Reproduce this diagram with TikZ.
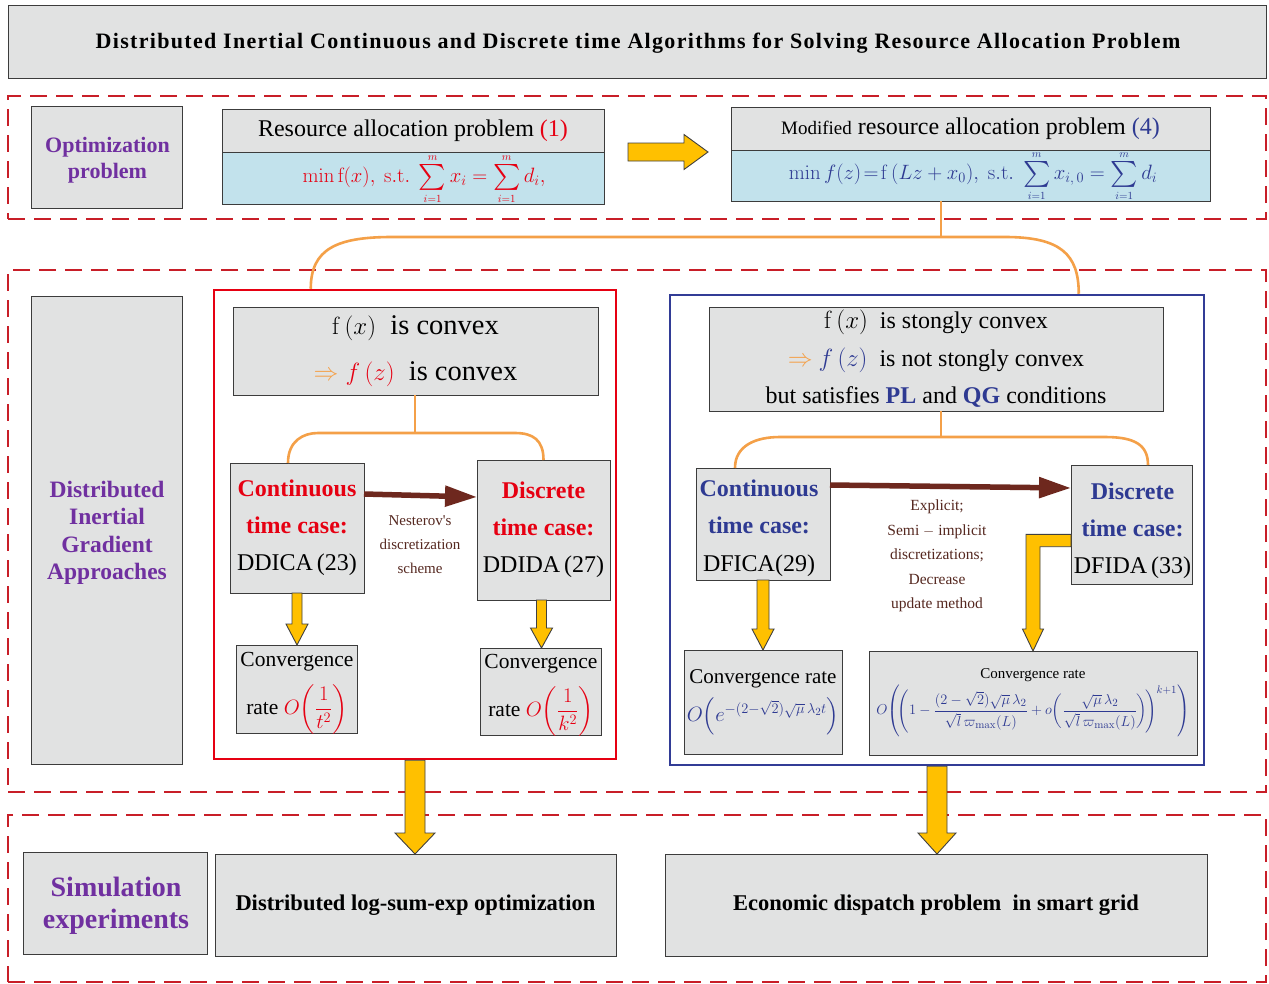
\documentclass[tikz,border=0pt]{standalone}
\usepackage[no-math]{fontspec}
\setmainfont{Liberation Serif}
\usepackage{amsmath}
\usepackage{graphicx}
\usetikzlibrary{arrows.meta,calc}
\definecolor{boxgray}{RGB}{225,226,226}
\definecolor{boxline}{RGB}{60,60,60}
\definecolor{lblue}{RGB}{194,226,236}
\definecolor{tpurple}{RGB}{112,48,160}
\definecolor{tred}{RGB}{230,0,18}
\definecolor{tblue}{RGB}{46,58,146}
\definecolor{bord}{RGB}{244,160,72}
\definecolor{yarr}{RGB}{255,192,0}
\definecolor{brn}{RGB}{110,40,30}
\definecolor{tbrn}{RGB}{85,40,32}
\definecolor{dred}{RGB}{200,30,40}
\definecolor{bblue}{RGB}{50,60,150}
\newcommand{\fsz}[2]{\fontsize{#1}{#2}\selectfont}
\newcommand{\smsum}{\mathop{\vcenter{\hbox{\scalebox{1.25}{$\sum$}}}}\limits_{\scriptscriptstyle i=1}^{\scriptscriptstyle m}}
\newcommand{\fatdown}[5]{\draw[yarrowst] let \p1=(#1), \p2=(#2) in (\x1-#3,\y1) -- (\x1+#3,\y1) -- (\x1+#3,\y2+#5) -- (\x1+#4,\y2+#5) -- (\x1,\y2) -- (\x1-#4,\y2+#5) -- (\x1-#3,\y2+#5) -- cycle;}
\newcommand{\fatright}[5]{\draw[yarrowst] let \p1=(#1), \p2=(#2) in (\x1,\y1+#3) -- (\x2-#5,\y1+#3) -- (\x2-#5,\y1+#4) -- (\x2,\y1) -- (\x2-#5,\y1-#4) -- (\x2-#5,\y1-#3) -- (\x1,\y1-#3) -- cycle;}
\tikzset{
  gbox/.style={draw=boxline, fill=boxgray, line width=1pt, inner sep=0pt, outer sep=0pt, align=center, text=black},
  fbox/.style={gbox, fill=lblue},
  dbox/.style={draw=dred, line width=2.4pt, dash pattern=on 17pt off 9pt, inner sep=0pt, outer sep=0pt},
  yarrowst/.style={fill=yarr, draw=black!75, line width=0.9pt, line join=miter},
  obrace/.style={draw=bord, line width=2.6pt},
  brnarrow/.style={draw=brn, line width=5.5pt, -{Triangle[length=32pt,width=20pt]}},
  txt/.style={inner sep=0pt, align=center}
}
\begin{document}
\begin{tikzpicture}[x=1pt,y=-1pt]
\useasboundingbox (0,0) rectangle (1269,983);
\fill[white] (0,0) rectangle (1269,983);
% title
\node[gbox, minimum width=1258, minimum height=73] (title) at (637,41.5) {};
\node[txt, font=\fsz{22}{26}\bfseries\addfontfeature{LetterSpace=6}] (titlet) at (638,43) {Distributed Inertial Continuous and Discrete time Algorithms for Solving Resource Allocation Problem};
% dashed frames
\node[dbox, minimum width=1258, minimum height=123] (frame1) at (637,157.5) {};
\node[dbox, minimum width=1258, minimum height=522] (frame2) at (637,531) {};
\node[dbox, minimum width=1258, minimum height=167] (frame3) at (637,898.5) {};
% row 1
\node[gbox, minimum width=151, minimum height=102] (opt) at (106.5,157) {};
\node[txt, text=tpurple, font=\fsz{22}{26}\bfseries] (optt) at (107.5,160) {Optimization\\problem};
\node[gbox, minimum width=382, minimum height=43, font=\fsz{24}{28}] (reshead) at (413,130.5) {Resource allocation problem \textcolor{tred}{(1)}};
\node[fbox, minimum width=382, minimum height=52] (resform) at (413,178) {};
\node[txt, font=\fsz{21}{24}, text=tred] (resformt) at (424,179) {$\min \mathrm{f}(x),\ \mathrm{s.t.}\ \smsum x_i = \smsum d_i,$};
\node[gbox, minimum width=479, minimum height=43, font=\fsz{24}{28}] (modhead) at (970.5,128.5) {{\fsz{19}{22}Modified} resource allocation problem \textcolor{tblue}{(4)}};
\node[fbox, minimum width=479, minimum height=51] (modform) at (970.5,175.5) {};
\node[txt, font=\fsz{22}{24}, text=tblue] (modformt) at (973,176) {$\min f(z)\!=\!\mathrm{f}\,(Lz+x_0),\ \mathrm{s.t.}\ \smsum x_{i,\,0} = \smsum d_i$};
\fatright{$(reshead.south east)+(24,0)$}{$(modhead.south west)+(-23,2)$}{9pt}{17.5pt}{24pt}
% row 2
\node[gbox, minimum width=151, minimum height=468] (dig) at (106.5,530) {};
\node[txt, text=tpurple, font=\fsz{23.5}{27.5}\bfseries] (digt) at (107,533) {Distributed\\Inertial\\Gradient\\Approaches};
\node[draw=tred, line width=2.5pt, minimum width=402, minimum height=469, inner sep=0pt] (redbox) at (415,524.5) {};
\node[draw=bblue, line width=2.5pt, minimum width=534, minimum height=470, inner sep=0pt] (bluebox) at (937,530) {};
% braces from modified problem
\coordinate (topj) at (941,237);
\draw[obrace] (topj |- modform.south) -- (topj);
\draw[obrace] ($(redbox.north west)+(98,0)$) .. controls +(0,-40) and +(-55,0) .. (392,237) -- (1005,237) .. controls +(55,0) and +(0,-40) .. ($(bluebox.north west)+(410,0)$);
% left (convex)
\node[gbox, minimum width=365, minimum height=88, font=\fsz{28.5}{46}] (cvx) at (415.5,351) {$\mathrm{f}\,(x)$\ \ is convex\\$\textcolor{bord}{\Rightarrow}\ \textcolor{tred}{f\,(z)}$\ \ is convex};
\node[gbox, minimum width=134, minimum height=130, font=\fsz{24}{37}] (cont) at (297,528) {\textcolor{tred}{\textbf{Continuous}}\\\textcolor{tred}{\textbf{time case:}}\\DDICA\,(23)};
\node[gbox, minimum width=133, minimum height=140, font=\fsz{24}{37}] (disc) at (543.5,530) {\textcolor{tred}{\textbf{Discrete}}\\\textcolor{tred}{\textbf{time case:}}\\DDIDA\,(27)};
\coordinate (lj) at (415,433);
\draw[obrace] (lj |- cvx.south) -- (lj);
\draw[obrace] ($(cont.north west)+(58,0)$) .. controls +(0,-22) and +(-15,0) .. (318,433) -- (515,433) .. controls +(18,0) and +(0,-20) .. (disc.north);
\draw[brnarrow] ($(cont.north east)+(0,31)$) -- ($(disc.north west)+(0,37)$);
\node[txt, font=\fsz{15}{24}, text=tbrn] (nest) at (420,545) {Nesterov\textquotesingle s\\discretization\\scheme};
\node[gbox, minimum width=121, minimum height=88] (conv1) at (296.5,689) {};
\node[txt, font=\fsz{21.5}{48}] (conv1t) at (297,693) {Convergence\\rate \textcolor{tred}{$O\!\left(\dfrac{1}{t^{2}}\right)$}};
\node[gbox, minimum width=121, minimum height=87] (conv2) at (540.5,691.5) {};
\node[txt, font=\fsz{21.5}{48}] (conv2t) at (541,695) {Convergence\\rate \textcolor{tred}{$O\!\left(\dfrac{1}{k^{2}}\right)$}};
\fatdown{cont.south}{conv1.north}{5pt}{11pt}{21pt}
\fatdown{$(disc.south)+(-2,0)$}{conv2.north}{5pt}{11pt}{20pt}
% right (strongly convex)
\node[gbox, minimum width=454, minimum height=104, font=\fsz{24}{37.5}] (scvx) at (936,359) {$\mathrm{f}\,(x)$\ \ is stongly convex\\$\textcolor{bord}{\Rightarrow}\ \textcolor{tblue}{f\,(z)}$\ \ is not stongly convex\\but satisfies \textcolor{tblue}{\textbf{PL}} and \textcolor{tblue}{\textbf{QG}} conditions};
\node[gbox, minimum width=134, minimum height=112] (bcont) at (763,524) {};
\node[txt, font=\fsz{24}{37.5}] (bcontt) at (759,528) {\textcolor{tblue}{\textbf{Continuous}}\\\textcolor{tblue}{\textbf{time case:}}\\DFICA(29)};
\node[gbox, minimum width=121, minimum height=119] (bdisc) at (1131.5,524.5) {};
\node[txt, font=\fsz{24}{37}] (bdisct) at (1132.5,531) {\textcolor{tblue}{\textbf{Discrete}}\\\textcolor{tblue}{\textbf{time case:}}\\DFIDA\,(33)};
\coordinate (rj) at (941,437);
\draw[obrace] (rj |- scvx.south) -- (rj);
\draw[obrace] ($(bcont.north west)+(39,0)$) .. controls +(0,-22) and +(-25,0) .. (780,437) -- (1105,437) .. controls +(30,0) and +(0,-20) .. ($(bdisc.north west)+(77,0)$);
\draw[brnarrow] ($(bcont.north east)+(0,17)$) -- ($(bdisc.north west)+(0,23)$);
\node[txt, font=\fsz{15.5}{24.5}, text=tbrn] (expl) at (937,556) {Explicit;\\Semi $-$ implicit\\discretizations;\\Decrease\\update method};
\node[gbox, minimum width=158, minimum height=104, font=\fsz{21}{38}] (bconv1) at (763,702) {Convergence rate\\\textcolor{tblue}{$O\Big(e^{-(2-\sqrt{2})\sqrt{\mu}\,\lambda_2 t}\Big)$}};
\node[gbox, minimum width=328, minimum height=104, font=\fsz{15}{36}] (bconv2) at (1033,703) {{\fsz{15}{18}Convergence rate}\\\textcolor{tblue}{$O\!\left(\!\left(1-\dfrac{(2-\sqrt{2})\sqrt{\mu}\,\lambda_2}{\sqrt{l}\,\varpi_{\max}(L)}+o\!\left(\dfrac{\sqrt{\mu}\,\lambda_2}{\sqrt{l}\,\varpi_{\max}(L)}\right)\!\right)^{k+1}\right)$}};
\fatdown{bcont.south}{bconv1.north}{6pt}{11pt}{21pt}
\draw[yarrowst] let \p1=($(bdisc.west)+(0,16)$), \p2=(bconv2.north) in
  (\x1,\y1+6.2pt) -- (\x2-7pt,\y1+6.2pt) -- (\x2-7pt,\y2+22pt) -- (\x2-10.5pt,\y2+22pt) -- (\x2,\y2) -- (\x2+10.5pt,\y2+22pt) -- (\x2+7pt,\y2+22pt) -- (\x2+7pt,\y1-6.2pt) -- (\x1,\y1-6.2pt) -- cycle;
% row 3
\node[gbox, minimum width=184, minimum height=102] (sim) at (115,903) {};
\node[txt, text=tpurple, font=\fsz{28}{32}\bfseries] (simt) at (116,906) {Simulation\\experiments};
\node[gbox, minimum width=401, minimum height=102, font=\fsz{22.5}{26}\bfseries] (lse) at (415.5,905) {Distributed log-sum-exp optimization};
\node[gbox, minimum width=542, minimum height=102, font=\fsz{22.5}{26}\bfseries] (eco) at (936,905) {Economic dispatch problem\ \ in smart grid};
\fatdown{redbox.south}{lse.north}{10pt}{20pt}{21pt}
\fatdown{bluebox.south}{eco.north}{10pt}{19pt}{21pt}
\end{tikzpicture}
\end{document}
